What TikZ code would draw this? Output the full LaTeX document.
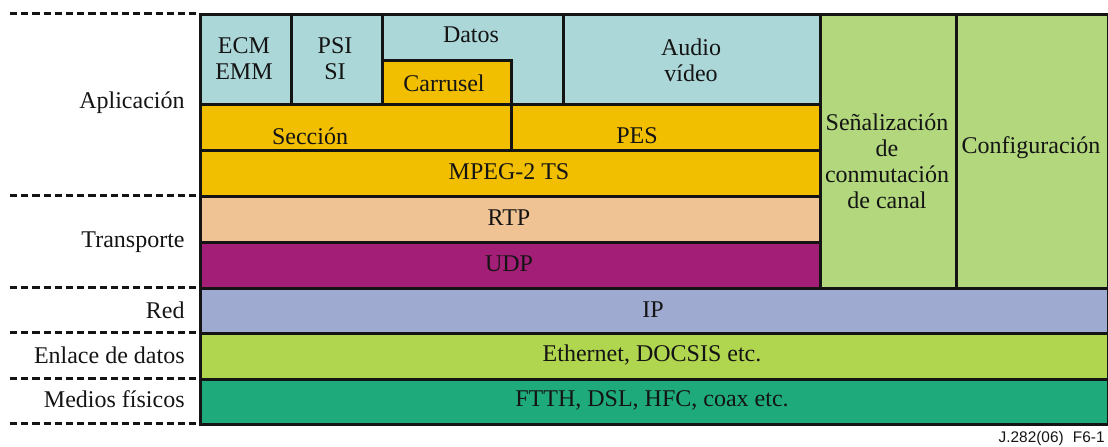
\documentclass[tikz,border=0pt]{standalone}
\usepackage{fontspec}
\setmainfont{Liberation Serif}
\newfontfamily\serifont{Liberation Serif}
\newfontfamily\footfont{Liberation Sans}
\definecolor{cLBlue}{HTML}{ACD7D8}
\definecolor{cGold}{HTML}{F2BE00}
\definecolor{cPeach}{HTML}{F0C395}
\definecolor{cPurple}{HTML}{A31E77}
\definecolor{cIP}{HTML}{9EAAD0}
\definecolor{cLime}{HTML}{B0D54E}
\definecolor{cTeal}{HTML}{1EAA7A}
\definecolor{cGreen}{HTML}{B2D77C}
\definecolor{cLine}{HTML}{141414}
\newcommand\mycell[6]{%
  \node[cell, fill=#6, minimum width={(#4-#2)*0.5pt}, minimum height={(#5-#3)*0.5pt}] (#1) at (#2,#3) {};}
\begin{document}
\begin{tikzpicture}[x=0.5pt,y=-0.5pt,
  cell/.style={draw=cLine, line width=1.4pt, inner sep=0pt, anchor=north west},
  txt/.style={inner sep=0pt, align=center, font=\serifont\fontsize{12}{13}\selectfont, text=cLine},
  lay/.style={inner sep=0pt, anchor=east, font=\serifont\fontsize{12}{13}\selectfont, text=cLine},
  sep/.style={draw=cLine, line width=1.5pt, dash pattern=on 3.6pt off 2pt}]
\useasboundingbox (0,0) rectangle (1108,446);
% application row
\mycell{ecm}{199}{13}{290}{103}{cLBlue}
\mycell{psi}{290}{13}{381}{103}{cLBlue}
\mycell{datos}{381}{13}{562}{103}{cLBlue}
\mycell{carr}{381}{59}{510}{103}{cGold}
\mycell{audio}{562}{13}{819}{103}{cLBlue}
\mycell{secc}{199}{103}{510}{149}{cGold}
\mycell{pes}{510}{103}{819}{149}{cGold}
\mycell{mpeg}{199}{149}{819}{195}{cGold}
\mycell{rtp}{199}{195}{819}{241}{cPeach}
\mycell{udp}{199}{241}{819}{287}{cPurple}
\mycell{senal}{819}{13}{955}{287}{cGreen}
\mycell{conf}{955}{13}{1107}{287}{cGreen}
\mycell{ip}{199}{287}{1107}{332}{cIP}
\mycell{eth}{199}{332}{1107}{378}{cLime}
\mycell{ftth}{199}{378}{1107}{423}{cTeal}
% texts
\node[txt] (tecm) at (244,59) {ECM\\EMM};
\node[txt] (tpsi) at (335,59) {PSI\\SI};
\node[txt] (tdatos) at (471,35) {Datos};
\node[txt] (tcarr) at (444,83) {Carrusel};
\node[txt] (taudio) at (691,60) {Audio\\vídeo};
\node[txt] (tsecc) at (310,136) {Sección};
\node[txt] (tpes) at (637,136) {PES};
\node[txt] (tmpeg) at (509,172) {MPEG-2 TS};
\node[txt] (trtp) at (509,218) {RTP};
\node[txt] (tudp) at (509,264) {UDP};
\node[txt] (tsenal) at (887,161) {Señalización\\de\\conmutación\\de canal};
\node[txt] (tconf) at (1031,148) {Configuración};
\node[txt] (tip) at (653,310) {IP};
\node[txt] (teth) at (652,355) {Ethernet, DOCSIS etc.};
\node[txt] (tftth) at (652,400) {FTTH, DSL, HFC, coax etc.};
% layer labels
\node[lay] (lapp) at (185,103) {Aplicación};
\node[lay] (ltra) at (185,242) {Transporte};
\node[lay] (lred) at (185,310) {Red};
\node[lay] (lenl) at (185,355) {Enlace de datos};
\node[lay] (lmed) at (185,399) {Medios físicos};
% dashed separators
\coordinate (d1) at (10,13);
\coordinate (d2) at (10,195);
\coordinate (d3) at (10,287);
\coordinate (d4) at (10,332);
\coordinate (d5) at (10,378);
\coordinate (d6) at (10,423);
\foreach \d in {d1,d2,d3,d4,d5,d6} \draw[sep] (\d) -- (\d -| ecm.west);
% footer
\node[inner sep=0pt, anchor=east, font=\footfont\fontsize{7.7}{9}\selectfont, text=cLine] (foot) at (1105,439) {J.282(06)\hspace{0.6em}F6-1};
\end{tikzpicture}
\end{document}
